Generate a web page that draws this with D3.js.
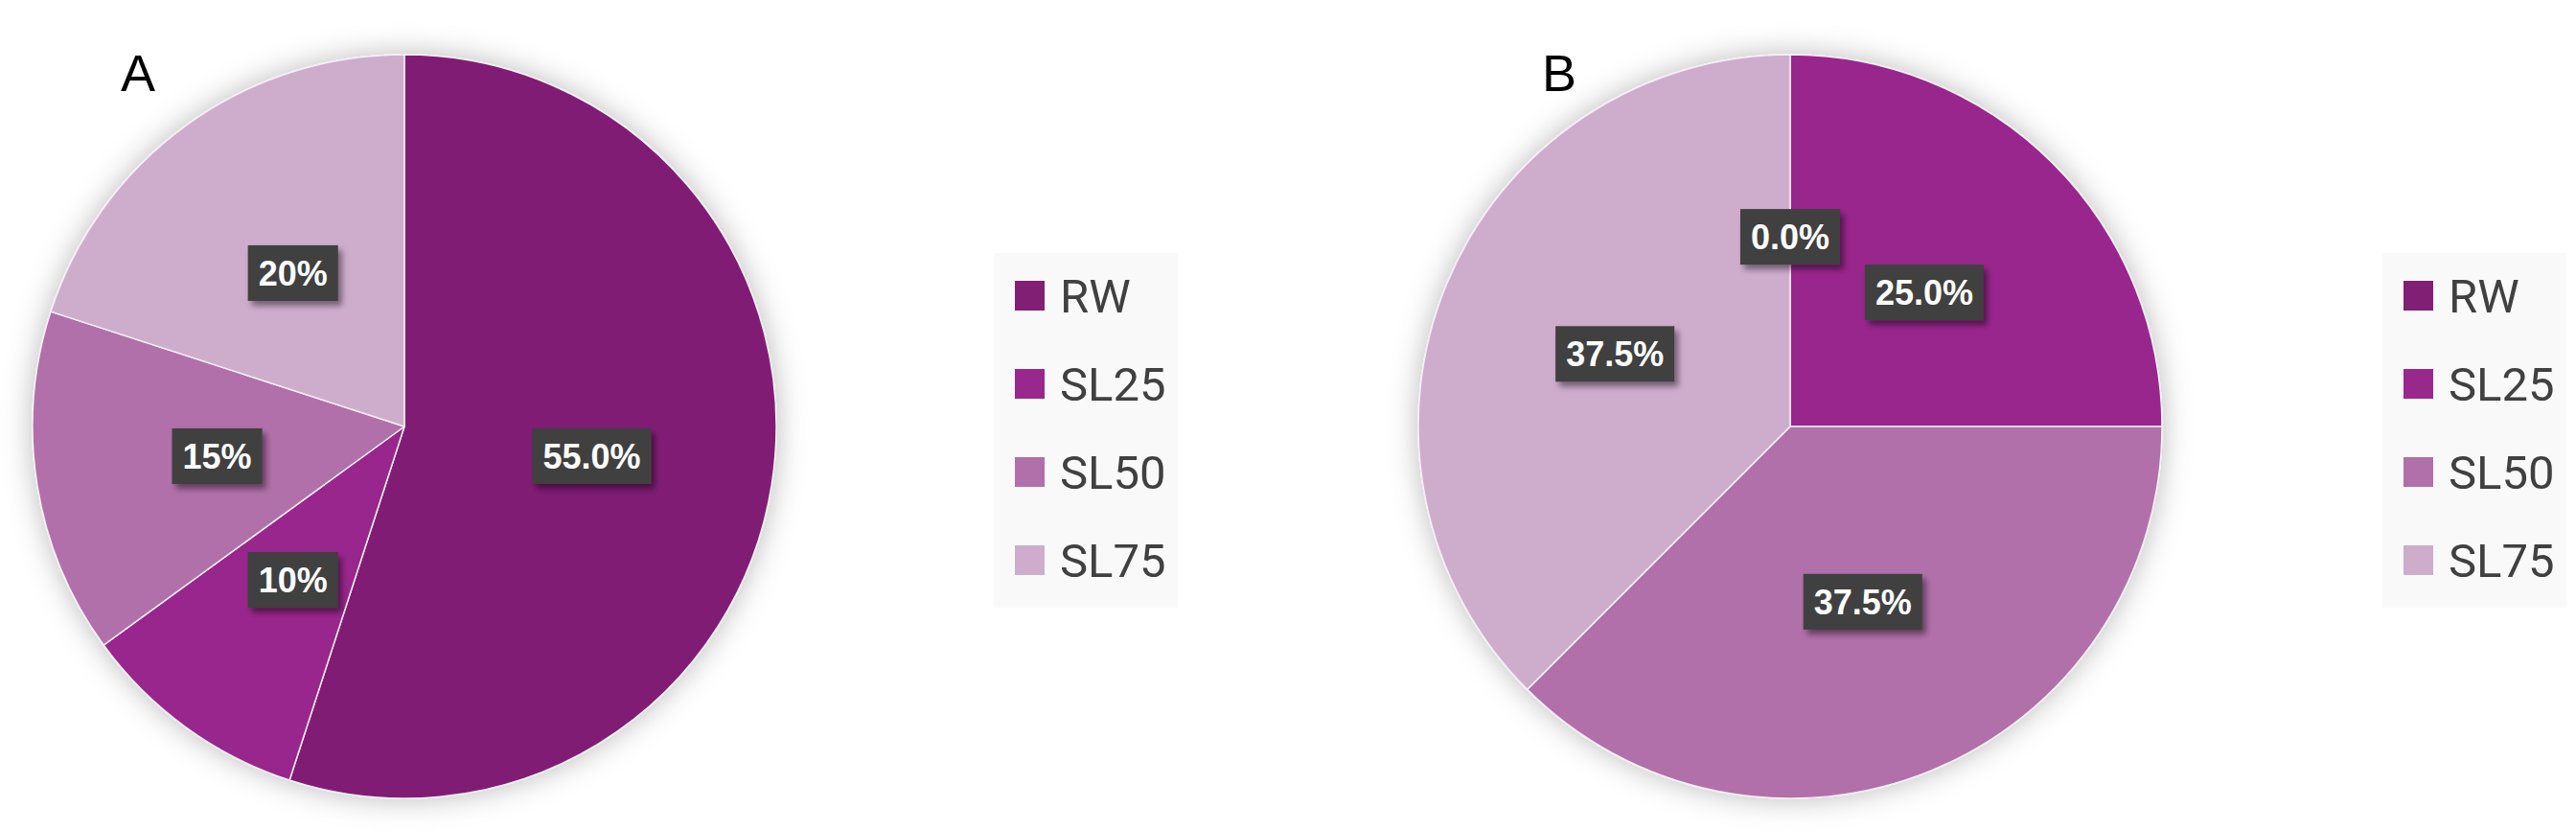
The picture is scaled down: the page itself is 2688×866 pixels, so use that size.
<!DOCTYPE html>
<html>
<head>
<meta charset="utf-8">
<script src="https://cdn.jsdelivr.net/npm/d3@7"></script>
<style>
  html, body { margin: 0; padding: 0; background: #ffffff; }
  svg { display: block; }
</style>
</head>
<body>
<svg id="chart" width="2688" height="866"></svg>
<script>
// ---- data ----
const categories = ["RW", "SL25", "SL50", "SL75"];
const valuesA = [55, 10, 15, 20];
const valuesB = [0, 25, 37.5, 37.5];
const labelsA = ["55.0%", "10%", "15%", "20%"];
const labelsB = ["0.0%", "25.0%", "37.5%", "37.5%"];
const panelTitles = ["A", "B"];
const sliceColors = ["#811f74", "#99288c", "#b170a9", "#ceadcc"];

// ---- layout ----
const radius = 388;
const panels = [
  { title: panelTitles[0], values: valuesA, labels: labelsA, cx: 422, cy: 445, titleX: 126, legendX: 1037 },
  { title: panelTitles[1], values: valuesB, labels: labelsB, cx: 1868, cy: 445, titleX: 1609, legendX: 2486 }
];

const svg = d3.select("#chart");
const defs = svg.append("defs");

const pieShadow = defs.append("filter").attr("id", "pieShadow")
  .attr("x", "-20%").attr("y", "-20%").attr("width", "140%").attr("height", "140%");
pieShadow.append("feDropShadow").attr("dx", 0).attr("dy", 0)
  .attr("stdDeviation", 15).attr("flood-color", "#000").attr("flood-opacity", 0.27);

const boxShadow = defs.append("filter").attr("id", "boxShadow")
  .attr("x", "-30%").attr("y", "-40%").attr("width", "160%").attr("height", "180%");
boxShadow.append("feDropShadow").attr("dx", 4).attr("dy", 5)
  .attr("stdDeviation", 3).attr("flood-color", "#000").attr("flood-opacity", 0.45);

const color = d3.scaleOrdinal().domain(categories).range(sliceColors);
const pie = d3.pie().sort(null).value(d => d.value);
const arc = d3.arc().innerRadius(0).outerRadius(radius);
const labelArc = d3.arc().innerRadius(0).outerRadius(radius * 1.02);

panels.forEach(p => {
  const data = categories.map((c, i) => ({ cat: c, value: p.values[i], label: p.labels[i] }));
  const arcs = pie(data);

  const g = svg.append("g").attr("transform", `translate(${p.cx},${p.cy})`);

  const pg = g.append("g").attr("filter", "url(#pieShadow)");
  pg.selectAll("path").data(arcs).join("path")
    .attr("d", arc)
    .attr("fill", d => color(d.data.cat))
    .attr("stroke", "#f6eef6")
    .attr("stroke-width", 1.5)
    .attr("stroke-linejoin", "round");

  const lg = g.selectAll("g.lab").data(arcs).join("g").attr("class", "lab")
    .attr("transform", d => `translate(${labelArc.centroid(d)})`);
  lg.each(function(d) {
    const sel = d3.select(this);
    const rect = sel.append("rect").attr("fill", "#3f3f3f").attr("filter", "url(#boxShadow)");
    const t = sel.append("text")
      .attr("text-anchor", "middle")
      .attr("dy", "0.36em")
      .attr("font-family", "'Liberation Sans', Arial, sans-serif")
      .attr("font-weight", "bold")
      .attr("font-size", 36)
      .attr("fill", "#ffffff")
      .text(d.data.label);
    const tw = t.node().getComputedTextLength();
    const bw = tw + 22, bh = 58;
    rect.attr("x", -bw / 2).attr("y", -bh / 2).attr("width", bw).attr("height", bh);
  });

  svg.append("text")
    .attr("x", p.titleX).attr("y", 95)
    .attr("font-family", "'Liberation Sans', Arial, sans-serif")
    .attr("font-size", 54)
    .attr("fill", "#000")
    .text(p.title);

  const lgX = p.legendX, lgY = 264;
  const leg = svg.append("g").attr("transform", `translate(${lgX},${lgY})`);
  leg.append("rect").attr("width", 192).attr("height", 370).attr("fill", "#f9f9f9");
  const rowY = d3.scalePoint().domain(categories).range([44, 44 + 3 * 92]);
  const item = leg.selectAll("g.item").data(categories).join("g").attr("class", "item")
    .attr("transform", c => `translate(22,${rowY(c)})`);
  item.append("rect").attr("x", 0).attr("y", -15).attr("width", 31).attr("height", 31)
    .attr("fill", c => color(c));
  item.append("text").attr("x", 47).attr("y", 0).attr("dy", "0.36em")
    .attr("font-family", "Roboto, 'Noto Sans', sans-serif")
    .attr("font-size", 49)
    .attr("fill", "#404040")
    .text(c => c);
});
</script>
</body>
</html>
